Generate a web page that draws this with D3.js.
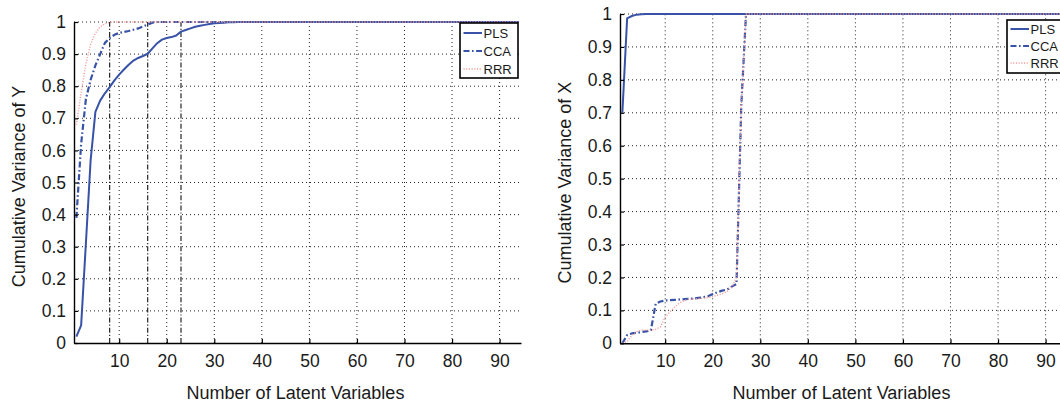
<!DOCTYPE html>
<html>
<head>
<meta charset="utf-8">
<script src="https://cdn.jsdelivr.net/npm/d3@7"></script>
<style>
  html, body { margin: 0; padding: 0; background: #fff; }
  svg { display: block; font-family: "Liberation Sans", Arial, Helvetica, sans-serif; }
</style>
</head>
<body>
<svg id="chart" width="1060" height="406"></svg>
<script>
// Axis ticks shared by both panels
const xTicks = [10, 20, 30, 40, 50, 60, 70, 80, 90];
const yTicks = [0, 0.1, 0.2, 0.3, 0.4, 0.5, 0.6, 0.7, 0.8, 0.9, 1];
const yTickLabels = ["0", "0.1", "0.2", "0.3", "0.4", "0.5", "0.6", "0.7", "0.8", "0.9", "1"];
const seriesNames = ["PLS", "CCA", "RRR"];
const lastComponent = 94;   // curves stay at 1 up to the last latent variable

// Cumulative variance of Y, components 1, 2, 3, ...
const plsY = [0.02, 0.055, 0.31, 0.57, 0.72, 0.755, 0.778, 0.797, 0.818, 0.836,
              0.852, 0.867, 0.88, 0.888, 0.894, 0.901, 0.918, 0.934, 0.945, 0.95,
              0.953, 0.958, 0.97, 0.975, 0.98, 0.985, 0.988, 0.991, 0.994, 0.996,
              0.997, 0.998, 0.999, 0.9995, 1];
const ccaY = [0.39, 0.62, 0.76, 0.82, 0.865, 0.9, 0.935, 0.95, 0.96, 0.966,
              0.969, 0.972, 0.976, 0.98, 0.986, 0.992, 0.998, 1];
const rrrY = [0.68, 0.78, 0.87, 0.93, 0.965, 0.985, 0.995, 0.999, 1];
// Marked component counts on the Y panel
const markedComponents = [8, 16, 23];

// Cumulative variance of X, components 1, 2, 3, ...
const plsX = [0.70, 0.987, 0.994, 0.998, 0.999, 1];
const ccaX = [0, 0.025, 0.03, 0.032, 0.034, 0.036, 0.04, 0.12, 0.127, 0.13,
              0.131, 0.132, 0.133, 0.134, 0.135, 0.136, 0.138, 0.14, 0.143, 0.15,
              0.155, 0.16, 0.163, 0.172, 0.18, 0.72, 1];
const rrrX = [0, 0.005, 0.025, 0.035, 0.04, 0.04, 0.04, 0.042, 0.05, 0.08,
              0.095, 0.11, 0.122, 0.13, 0.134, 0.135, 0.136, 0.137, 0.139, 0.142,
              0.146, 0.15, 0.157, 0.17, 0.2, 0.72, 1];

const styles = {
  PLS: { color: "#3752a6", width: 2, dash: null },
  CCA: { color: "#3752a6", width: 2.2, dash: "6,2.5,1.6,2.5" },
  RRR: { color: "#f29a9a", width: 1.4, dash: "1.1,1.6" }
};

const svg = d3.select("#chart");
svg.append("rect").attr("width", 1060).attr("height", 406).attr("fill", "#fff");

function toPoints(values) {
  const pts = values.map((v, i) => [i + 1, v]);
  pts.push([lastComponent, values[values.length - 1]]);
  return pts;
}

function drawPanel(cfg) {
  const g = svg.append("g");
  const x = d3.scaleLinear().domain([0.5, 94.5]).range([cfg.left, cfg.left + 447]);
  const y = d3.scaleLinear().domain([0, 1]).range([cfg.bottom, cfg.top]);

  // dotted grid
  g.append("g").selectAll("line").data(xTicks).join("line")
    .attr("x1", d => x(d)).attr("x2", d => x(d))
    .attr("y1", y(0)).attr("y2", y(1))
    .attr("stroke", "#222").attr("stroke-width", 1).attr("stroke-dasharray", "1,3");
  g.append("g").selectAll("line").data(yTicks.slice(1)).join("line")
    .attr("x1", x.range()[0]).attr("x2", x.range()[1])
    .attr("y1", d => y(d)).attr("y2", d => y(d))
    .attr("stroke", "#222").attr("stroke-width", 1).attr("stroke-dasharray", "1,3");

  // vertical markers
  g.append("g").selectAll("line").data(cfg.markers || []).join("line")
    .attr("x1", d => x(d)).attr("x2", d => x(d))
    .attr("y1", y(0)).attr("y2", y(1))
    .attr("stroke", "#111").attr("stroke-width", 1.1).attr("stroke-dasharray", "5,2,1.2,2");

  // curves
  const line = d3.line().x(d => x(d[0])).y(d => y(d[1]));
  cfg.series.forEach((vals, i) => {
    const st = styles[seriesNames[i]];
    g.append("path").datum(toPoints(vals))
      .attr("fill", "none")
      .attr("stroke", st.color)
      .attr("stroke-width", st.width)
      .attr("stroke-dasharray", st.dash)
      .attr("stroke-linejoin", "round")
      .attr("d", line);
  });

  // axes
  const xAxis = d3.axisBottom(x).tickValues(xTicks).tickFormat(d3.format("d"))
    .tickSizeInner(-4).tickSizeOuter(0).tickPadding(11.5);
  const gx = g.append("g").attr("transform", `translate(0,${cfg.bottom})`).call(xAxis);
  const yAxis = d3.axisLeft(y).tickValues(yTicks).tickFormat((d, i) => yTickLabels[i])
    .tickSizeInner(-4).tickSizeOuter(0).tickPadding(8);
  const gy = g.append("g").attr("transform", `translate(${cfg.left},0)`).call(yAxis);
  [gx, gy].forEach(a => {
    a.select(".domain").attr("stroke", "#000").attr("stroke-width", 1.4);
    a.selectAll(".tick line").attr("stroke", "#000").attr("stroke-width", 1.2);
    a.selectAll(".tick text").attr("fill", "#1a1a1a")
      .style("font-size", "17.5px").style("font-family", "'Liberation Sans', Arial, sans-serif");
  });

  // axis titles
  g.append("text")
    .attr("x", (x.range()[0] + x.range()[1]) / 2 - 2).attr("y", 399)
    .attr("text-anchor", "middle").attr("fill", "#1a1a1a").style("font-size", "18px")
    .text("Number of Latent Variables");
  g.append("text")
    .attr("transform", `translate(${cfg.left - 49},${(cfg.top + cfg.bottom) / 2 + 4}) rotate(-90)`)
    .attr("text-anchor", "middle").attr("fill", "#1a1a1a").style("font-size", "18px")
    .text(cfg.yTitle);

  // legend
  const lg = g.append("g").attr("transform", `translate(${cfg.legendX},${cfg.legendY})`);
  lg.append("rect").attr("width", 58).attr("height", cfg.legendH)
    .attr("fill", "#fff").attr("stroke", "#000").attr("stroke-width", 1.6);
  seriesNames.forEach((name, i) => {
    const st = styles[name];
    const cy = cfg.legendRow0 + i * cfg.legendStep;
    lg.append("line").attr("x1", 3.5).attr("x2", 22).attr("y1", cy).attr("y2", cy)
      .attr("stroke", st.color).attr("stroke-width", st.width).attr("stroke-dasharray", st.dash);
    lg.append("text").attr("x", 23.5).attr("y", cy + 4.6)
      .attr("fill", "#1a1a1a").style("font-size", "13px").text(name);
  });
}

drawPanel({
  left: 74, top: 22, bottom: 343,
  series: [plsY, ccaY, rrrY],
  markers: markedComponents,
  yTitle: "Cumulative Variance of Y",
  legendX: 460, legendY: 23, legendH: 55, legendRow0: 10, legendStep: 18
});

drawPanel({
  left: 620, top: 14, bottom: 343.3,
  series: [plsX, ccaX, rrrX],
  markers: [],
  yTitle: "Cumulative Variance of X",
  legendX: 1007, legendY: 20, legendH: 53, legendRow0: 9, legendStep: 17
});
</script>
</body>
</html>
